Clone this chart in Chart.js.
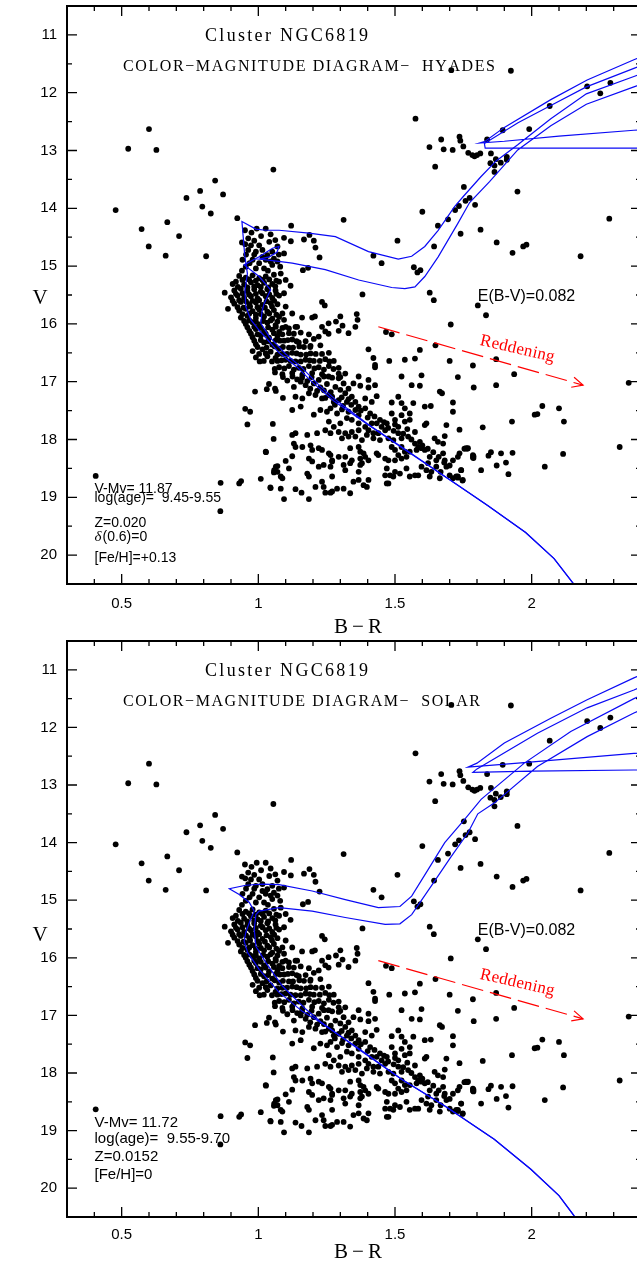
<!DOCTYPE html>
<html>
<head>
<meta charset="utf-8">
<script src="https://cdn.jsdelivr.net/npm/chart.js@4"></script>
<style>
  html, body { margin: 0; padding: 0; background: #fff; overflow: hidden; }
  canvas { display: block; }
</style>
</head>
<body>
<canvas id="cmdTop" width="645" height="637"></canvas>
<canvas id="cmdBottom" width="645" height="637"></canvas>
<script>
// axis ticks
const xTicks = [0.5, 1, 1.5, 2]
const xTickLabels = ['0.5', '1', '1.5', '2']
const yTicks = [11, 12, 13, 14, 15, 16, 17, 18, 19, 20]
const yTickLabels = ['11', '12', '13', '14', '15', '16', '17', '18', '19', '20']
const xMinorTicks = [0.4, 0.5, 0.6, 0.7, 0.8, 0.9, 1, 1.1, 1.2, 1.3, 1.4, 1.5, 1.6, 1.7, 1.8, 1.9, 2, 2.1, 2.2, 2.3]
const yMinorTicks = [11, 11.5, 12, 12.5, 13, 13.5, 14, 14.5, 15, 15.5, 16, 16.5, 17, 17.5, 18, 18.5, 19, 19.5, 20]

// stars [B-R, V] (same photometry in both panels)
const fieldStars = [
  [0.524, 12.97], [0.600, 12.63], [0.627, 12.99], [1.055, 13.33], [0.842, 13.52], [0.787, 13.70], [0.871, 13.76], [0.737, 13.82],
  [0.795, 13.97], [0.826, 14.09], [0.478, 14.03], [0.573, 14.36], [0.667, 14.24], [0.710, 14.48], [0.599, 14.66], [0.661, 14.82],
  [0.809, 14.83], [0.923, 14.17], [0.877, 15.46], [0.889, 15.74], [0.405, 18.63], [0.862, 18.75], [0.861, 19.24], [0.930, 18.76],
  [0.937, 18.72], [1.009, 18.68], [1.044, 18.83], [1.057, 18.57], [1.028, 18.22], [1.056, 17.99], [1.053, 17.73], [0.952, 17.47],
  [0.970, 17.52], [0.960, 17.74], [0.988, 17.17], [1.070, 18.46], [1.031, 17.13], [1.039, 17.04], [1.061, 17.12]
]
const giantStars = [
  [1.706, 11.61], [1.924, 11.62], [1.575, 12.45], [2.203, 11.89], [2.251, 12.01], [2.288, 11.83], [2.066, 12.23], [1.894, 12.65],
  [1.991, 12.63], [1.837, 12.81], [1.736, 12.76], [1.739, 12.83], [1.669, 12.81], [1.626, 12.94], [1.678, 12.98], [1.711, 12.99],
  [1.750, 12.93], [1.768, 13.04], [1.783, 13.08], [1.791, 13.10], [1.800, 13.08], [1.812, 13.05], [1.851, 13.05], [1.869, 13.15],
  [1.849, 13.22], [1.864, 13.26], [1.887, 13.21], [1.909, 13.16], [1.909, 13.11], [1.864, 13.37], [1.647, 13.28], [1.752, 13.63],
  [1.773, 13.82], [1.948, 13.71], [1.600, 14.06], [1.312, 14.20], [1.120, 14.30], [1.657, 14.30], [1.694, 14.19], [1.720, 14.03],
  [1.734, 13.96], [1.758, 13.87], [1.793, 13.94], [1.740, 14.44], [1.643, 14.66], [1.509, 14.56], [1.187, 14.46], [1.203, 14.56],
  [1.209, 14.68], [1.224, 14.85], [1.167, 14.54], [1.119, 14.57], [1.094, 14.51], [1.421, 14.82], [1.451, 14.95], [1.569, 15.02],
  [1.593, 15.07], [1.582, 15.11], [1.182, 15.03], [1.163, 15.07], [1.118, 15.34], [1.381, 15.49], [1.627, 15.46], [1.642, 15.59],
  [1.803, 15.68], [1.704, 16.01], [1.467, 16.14], [1.488, 16.18], [1.360, 15.83], [1.363, 15.93], [1.355, 16.05], [2.284, 14.18],
  [2.179, 14.83], [1.813, 14.37], [1.872, 14.59], [1.930, 14.77], [1.969, 14.66], [1.981, 14.63], [1.833, 15.85], [1.870, 16.61],
  [1.785, 16.72], [1.936, 16.87], [1.870, 17.06], [1.788, 17.10], [2.355, 17.02]
]
const turnoffStars = [
  [0.951, 14.38], [0.994, 14.35], [1.027, 14.35], [0.940, 14.59], [0.963, 14.52], [1.003, 14.64], [0.963, 14.72], [0.942, 14.89],
  [0.973, 14.64], [0.991, 14.75], [1.015, 14.72], [1.033, 14.81], [1.051, 14.75], [1.070, 14.66], [0.979, 14.89], [1.003, 14.95],
  [1.027, 14.89], [1.057, 14.87], [0.954, 15.01], [0.991, 15.04], [1.021, 15.04], [1.051, 14.98], [1.070, 14.92], [1.094, 14.78],
  [1.080, 15.01], [0.930, 15.17], [0.954, 15.20], [0.979, 15.16], [1.003, 15.21], [1.027, 15.18], [1.057, 15.15], [1.082, 15.13],
  [0.906, 15.31], [0.918, 15.27], [0.948, 15.32], [0.973, 15.28], [0.997, 15.33], [1.021, 15.29], [1.051, 15.31], [1.076, 15.27],
  [1.100, 15.24], [0.912, 15.42], [0.936, 15.39], [0.960, 15.43], [0.985, 15.40], [1.009, 15.44], [1.033, 15.40], [1.063, 15.42],
  [1.094, 15.47], [0.900, 15.54], [0.924, 15.51], [0.948, 15.55], [0.973, 15.52], [0.997, 15.56], [1.027, 15.52], [1.051, 15.55],
  [1.076, 15.51], [0.912, 15.65], [0.936, 15.62], [0.967, 15.66], [0.991, 15.63], [1.015, 15.67], [1.045, 15.64], [1.070, 15.66],
  [1.100, 15.70], [0.930, 15.77], [0.954, 15.74], [0.979, 15.78], [1.003, 15.75], [1.033, 15.79], [1.057, 15.76], [1.088, 15.82],
  [1.124, 15.82], [0.936, 15.89], [0.960, 15.86], [0.991, 15.90], [1.021, 15.87], [1.051, 15.91], [1.076, 15.88], [0.954, 16.00],
  [0.979, 15.97], [1.003, 16.01], [1.033, 15.98], [1.063, 16.02], [1.100, 16.05], [1.136, 16.05], [0.967, 16.12], [0.991, 16.09],
  [1.021, 16.13], [1.051, 16.10], [1.076, 16.14], [1.112, 16.16], [1.155, 16.15], [1.185, 16.18], [0.979, 16.23], [1.009, 16.20],
  [1.039, 16.24], [1.070, 16.21], [0.991, 16.35], [1.021, 16.32], [1.051, 16.36], [1.064, 16.28], [1.094, 16.29], [1.124, 16.27],
  [1.173, 16.30], [1.203, 16.26], [0.979, 16.47], [1.015, 16.44], [1.045, 16.48], [1.076, 16.43], [1.112, 16.41], [1.167, 16.40],
  [0.991, 16.58], [1.033, 16.56], [1.063, 16.59], [1.005, 16.65], [1.061, 16.84]
]
const turnoffCore = [
  [0.975, 14.42], [1.010, 14.48], [1.045, 14.45], [0.952, 14.62], [0.985, 14.56], [1.040, 14.58], [1.062, 14.55], [0.955, 14.80],
  [0.985, 14.80], [1.015, 14.84], [1.045, 14.92], [0.968, 14.95], [1.035, 15.08], [0.940, 15.08], [1.075, 14.80],
  [0.942, 15.24], [0.966, 15.23], [0.991, 15.25], [1.015, 15.24], [1.040, 15.23], [1.066, 15.25],
  [0.925, 15.36], [0.960, 15.37], [0.985, 15.35], [1.009, 15.36], [1.036, 15.37], [1.062, 15.35],
  [0.918, 15.48], [0.942, 15.47], [0.966, 15.49], [0.991, 15.48], [1.015, 15.47], [1.040, 15.49], [1.066, 15.48],
  [0.906, 15.60], [0.930, 15.59], [0.955, 15.61], [0.979, 15.60], [1.003, 15.59], [1.030, 15.61], [1.058, 15.60],
  [0.924, 15.71], [0.946, 15.72], [0.970, 15.70], [0.997, 15.71], [1.024, 15.72], [1.050, 15.70],
  [0.942, 15.83], [0.967, 15.82], [0.991, 15.84], [1.009, 15.83], [1.040, 15.82], [1.066, 15.84],
  [0.948, 15.95], [0.967, 15.94], [0.991, 15.96], [1.018, 15.95], [1.045, 15.94], [1.070, 15.96],
  [0.960, 16.06], [0.985, 16.05], [1.009, 16.07], [1.036, 16.06], [1.064, 16.05], [1.088, 16.07],
  [0.973, 16.17], [0.997, 16.18], [1.027, 16.17], [1.057, 16.16], [1.088, 16.18],
  [0.985, 16.29], [1.009, 16.28], [1.036, 16.30], [1.079, 16.29], [1.108, 16.28], [1.140, 16.30],
  [0.997, 16.40], [1.030, 16.41], [1.060, 16.39], [1.090, 16.40], [1.127, 16.41], [1.150, 16.39], [1.190, 16.40],
  [1.003, 16.52], [1.027, 16.51], [1.070, 16.53], [1.105, 16.52], [1.140, 16.51], [1.175, 16.53], [1.210, 16.52],
  [1.020, 16.64], [1.050, 16.65], [1.085, 16.63], [1.118, 16.64], [1.155, 16.65], [1.188, 16.63], [1.225, 16.64], [1.260, 16.65],
  [1.060, 16.78], [1.095, 16.77], [1.130, 16.79], [1.165, 16.78], [1.205, 16.77], [1.240, 16.79], [1.275, 16.78],
  [1.090, 16.92], [1.125, 16.91], [1.160, 16.93], [1.195, 16.92], [1.240, 16.91], [1.270, 16.93], [1.300, 16.92]
]
const upperMsStars = [
  [1.300, 15.87], [1.308, 16.03], [1.294, 16.12], [1.330, 16.16], [1.284, 15.96], [1.257, 15.99], [1.245, 16.13], [1.233, 16.05],
  [1.233, 15.62], [1.243, 15.68], [1.207, 15.87], [1.197, 15.89], [1.160, 15.89], [1.221, 16.22], [1.257, 16.17], [1.227, 16.37],
  [1.191, 16.38], [1.142, 16.05], [1.130, 16.17], [1.148, 16.32], [1.112, 16.08], [1.094, 15.93], [1.403, 16.44], [1.421, 16.59],
  [1.427, 16.71], [1.427, 16.75], [1.479, 16.64], [1.536, 16.62], [1.573, 16.60], [1.591, 16.45], [1.648, 16.37], [1.700, 16.64],
  [1.730, 16.92], [1.597, 16.89], [1.524, 16.91], [1.664, 17.17], [1.672, 17.20], [1.403, 16.97], [1.367, 16.91], [1.294, 16.86],
  [1.294, 16.94], [1.257, 16.91], [1.221, 16.97], [1.088, 16.52], [1.124, 16.50], [1.155, 16.53], [1.191, 16.51], [1.233, 16.52],
  [1.258, 16.50], [1.070, 16.64], [1.100, 16.62], [1.136, 16.65], [1.173, 16.62], [1.203, 16.64], [1.245, 16.61], [1.276, 16.64],
  [1.076, 16.75], [1.112, 16.73], [1.148, 16.76], [1.185, 16.73], [1.221, 16.75], [1.258, 16.73], [1.294, 16.76], [1.088, 16.87],
  [1.124, 16.85], [1.161, 16.88], [1.197, 16.85], [1.233, 16.87], [1.318, 16.86], [1.106, 16.98], [1.142, 16.96], [1.179, 16.99]
]
const lowerMsStars = [
  [1.064, 17.16], [1.130, 17.09], [1.155, 17.00], [1.173, 17.06], [1.203, 17.03], [1.227, 17.10], [1.251, 17.04], [1.282, 17.09],
  [1.312, 17.03], [1.330, 17.12], [1.348, 17.03], [1.373, 17.07], [1.403, 17.10], [1.427, 17.06], [1.561, 17.06], [1.591, 17.07],
  [1.090, 17.28], [1.136, 17.26], [1.161, 17.29], [1.185, 17.20], [1.209, 17.23], [1.233, 17.29], [1.258, 17.23], [1.276, 17.35],
  [1.294, 17.32], [1.318, 17.20], [1.324, 17.35], [1.342, 17.26], [1.367, 17.43], [1.391, 17.29], [1.415, 17.35], [1.433, 17.25],
  [1.488, 17.36], [1.512, 17.26], [1.524, 17.37], [1.536, 17.46], [1.567, 17.37], [1.609, 17.43], [1.631, 17.42], [1.712, 17.36],
  [1.712, 17.52], [1.124, 17.49], [1.155, 17.43], [1.203, 17.57], [1.227, 17.49], [1.251, 17.52], [1.264, 17.46], [1.288, 17.55],
  [1.306, 17.48], [1.330, 17.52], [1.355, 17.49], [1.367, 17.58], [1.391, 17.46], [1.409, 17.55], [1.488, 17.55], [1.500, 17.66],
  [1.524, 17.58], [1.554, 17.55], [1.258, 17.69], [1.276, 17.78], [1.300, 17.72], [1.324, 17.63], [1.342, 17.66], [1.367, 17.72],
  [1.391, 17.78], [1.415, 17.72], [1.433, 17.72], [1.451, 17.78], [1.470, 17.72], [1.403, 17.84], [1.421, 17.89], [1.439, 17.89],
  [1.464, 17.84], [1.512, 17.78], [1.536, 17.69], [1.554, 17.66], [1.573, 17.87], [1.609, 17.75], [1.615, 17.72], [1.688, 17.75],
  [1.736, 17.83], [1.124, 17.92], [1.136, 17.89], [1.179, 17.92], [1.215, 17.89], [1.245, 17.84], [1.264, 17.89], [1.294, 17.87],
  [1.318, 17.89], [1.342, 17.87], [1.367, 17.84], [1.306, 17.98], [1.330, 17.95], [1.355, 17.95], [1.379, 18.01], [1.397, 17.92],
  [1.421, 17.98], [1.445, 18.01], [1.476, 17.98], [1.494, 18.01], [1.512, 17.89], [1.524, 17.98], [1.548, 17.95], [1.573, 18.07],
  [1.591, 18.04], [1.645, 17.98], [1.657, 18.04], [1.676, 18.07], [1.682, 17.94], [1.130, 18.07], [1.136, 18.13], [1.161, 18.13],
  [1.191, 18.10], [1.197, 18.18], [1.221, 18.15], [1.233, 18.18], [1.258, 18.24], [1.264, 18.27], [1.336, 18.15], [1.367, 18.13],
  [1.373, 18.21], [1.385, 18.24], [1.433, 18.24], [1.439, 18.27], [1.464, 18.33], [1.488, 18.13], [1.500, 18.18], [1.524, 18.13],
  [1.536, 18.21], [1.554, 18.21], [1.585, 18.13], [1.597, 18.15], [1.609, 18.18], [1.579, 18.18], [1.627, 18.30], [1.651, 18.36],
  [1.676, 18.24], [1.682, 18.36], [1.712, 18.36], [1.730, 18.30], [1.736, 18.24], [1.760, 18.15], [1.767, 18.15], [1.785, 18.27],
  [1.785, 18.31], [1.027, 18.21], [1.100, 18.37], [1.124, 18.29], [1.185, 18.33], [1.197, 18.38], [1.270, 18.36], [1.294, 18.30],
  [1.318, 18.30], [1.342, 18.36], [1.373, 18.33], [1.379, 18.41], [1.391, 18.30], [1.403, 18.36], [1.476, 18.36], [1.500, 18.36],
  [1.512, 18.27], [1.524, 18.33], [1.542, 18.30], [1.064, 18.47], [1.070, 18.56], [1.058, 18.53], [1.112, 18.50], [1.082, 18.64],
  [1.088, 18.67], [1.179, 18.59], [1.185, 18.64], [1.221, 18.47], [1.239, 18.44], [1.264, 18.47], [1.270, 18.38], [1.270, 18.64],
  [1.233, 18.73], [1.209, 18.82], [1.239, 18.82], [1.270, 18.90], [1.288, 18.85], [1.312, 18.85], [1.318, 18.53], [1.312, 18.44],
  [1.336, 18.41], [1.367, 18.56], [1.348, 18.73], [1.367, 18.70], [1.385, 18.79], [1.397, 18.82], [1.403, 18.70], [1.373, 18.44],
  [1.470, 18.50], [1.482, 18.62], [1.464, 18.62], [1.476, 18.76], [1.494, 18.64], [1.500, 18.56], [1.518, 18.59], [1.542, 18.50],
  [1.554, 18.64], [1.573, 18.62], [1.585, 18.62], [1.597, 18.47], [1.615, 18.53], [1.621, 18.41], [1.627, 18.64], [1.633, 18.56],
  [1.651, 18.47], [1.664, 18.67], [1.667, 18.56], [1.688, 18.47], [1.700, 18.62], [1.712, 18.67], [1.724, 18.64], [1.730, 18.64],
  [1.742, 18.53], [1.748, 18.70], [1.045, 18.84], [1.082, 18.85], [1.136, 18.86], [1.158, 18.92], [1.094, 19.03], [1.185, 19.03],
  [1.245, 18.92], [1.264, 18.92], [1.336, 18.93], [1.470, 18.76],
  [1.190, 17.12], [1.215, 17.16], [1.240, 17.15], [1.265, 17.18], [1.300, 17.14], [1.245, 17.28], [1.270, 17.26], [1.305, 17.27],
  [1.330, 17.30], [1.355, 17.35], [1.280, 17.40], [1.310, 17.42], [1.340, 17.40], [1.375, 17.50], [1.400, 17.62], [1.425, 17.60],
  [1.445, 17.66], [1.460, 17.70], [1.475, 17.80], [1.495, 17.85], [1.500, 17.74], [1.530, 17.90], [1.545, 17.82], [1.560, 18.00],
  [1.600, 18.10], [1.620, 18.16], [1.640, 18.22], [1.700, 18.45], [1.680, 18.40], [1.660, 18.30]
]
const redFieldStars = [
  [2.039, 17.42], [2.100, 17.46], [2.011, 17.57], [2.021, 17.56], [1.928, 17.69], [2.118, 17.69], [1.821, 17.79], [2.322, 18.13],
  [1.754, 18.16], [1.764, 18.16], [1.787, 18.29], [1.787, 18.32], [1.842, 18.28], [1.851, 18.22], [1.888, 18.24], [1.930, 18.23],
  [1.906, 18.40], [1.872, 18.45], [2.115, 18.25], [2.048, 18.47], [1.742, 18.53], [1.815, 18.53], [1.915, 18.60], [1.730, 18.66],
  [1.747, 18.71]
]
const stars = [...fieldStars, ...giantStars, ...turnoffStars, ...turnoffCore, ...upperMsStars, ...lowerMsStars, ...redFieldStars]

// isochrones, Hyades metallicity (log age 9.45 and 9.55)
const isoHyadesYoung = [
  [2.17, 20.60], [2.082, 20.06], [1.978, 19.61], [1.839, 19.14], [1.730, 18.79], [1.55, 18.22], [1.40, 17.74], [1.275, 17.33],
  [1.20, 17.02], [1.14, 16.74], [1.076, 16.50], [1.003, 16.11], [0.973, 15.93], [0.954, 15.70], [0.951, 15.41], [0.960, 15.13],
  [0.950, 14.80], [0.940, 14.23], [0.991, 14.36], [1.027, 14.38], [1.076, 14.38], [1.185, 14.43], [1.282, 14.49], [1.403, 14.75],
  [1.512, 14.88], [1.561, 14.83], [1.609, 14.66], [1.658, 14.38], [1.718, 13.97], [1.749, 13.80], [1.815, 13.45], [1.87, 13.18],
  [1.949, 12.90], [2.07, 12.45], [2.20, 12.02], [2.374, 11.72], [2.55, 11.40], [2.55, 12.60], [2.374, 12.65], [2.10, 12.75],
  [1.90, 12.84], [1.809, 12.87], [1.83, 12.84], [1.90, 12.60], [2.07, 12.12], [2.203, 11.78], [2.374, 11.43], [2.55, 11.10]
]
const isoHyadesOld = [
  [2.17, 20.60], [2.082, 20.06], [1.978, 19.61], [1.839, 19.14], [1.730, 18.79], [1.55, 18.21], [1.40, 17.73], [1.29, 17.34],
  [1.22, 17.05], [1.16, 16.76], [1.10, 16.52], [1.040, 16.22], [1.009, 15.99], [1.013, 15.80], [1.021, 15.65], [1.045, 15.41],
  [1.003, 15.18], [0.948, 14.98], [1.003, 14.84], [1.052, 14.69], [1.076, 14.66], [1.068, 14.76], [1.040, 14.84], [1.003, 14.88],
  [1.06, 14.91], [1.124, 14.95], [1.245, 15.06], [1.367, 15.24], [1.488, 15.37], [1.536, 15.39], [1.573, 15.36], [1.609, 15.18],
  [1.658, 14.84], [1.730, 14.26], [1.773, 13.90], [1.846, 13.54], [1.949, 12.99], [2.07, 12.57], [2.20, 12.20], [2.374, 11.90],
  [2.55, 11.60], [2.55, 12.96], [2.374, 12.96], [2.00, 12.96], [1.83, 12.96], [1.827, 12.88], [1.95, 12.52], [2.07, 12.22],
  [2.20, 11.90], [2.374, 11.58], [2.55, 11.25]
]
// isochrones, solar metallicity (log age 9.55 and 9.70)
const isoSolarYoung = [
  [2.17, 20.60], [2.154, 20.47], [2.100, 20.13], [1.997, 19.67], [1.863, 19.15], [1.681, 18.57], [1.524, 18.11], [1.38, 17.62],
  [1.221, 17.10], [1.161, 16.93], [1.076, 16.60], [1.003, 16.20], [0.961, 15.91], [0.948, 15.71], [0.954, 15.56], [0.970, 15.35],
  [0.985, 15.19], [0.967, 15.04], [0.930, 14.90], [0.894, 14.80], [0.954, 14.74], [1.015, 14.72], [1.076, 14.73], [1.197, 14.84],
  [1.318, 14.99], [1.439, 15.13], [1.518, 15.11], [1.561, 14.93], [1.621, 14.47], [1.682, 14.00], [1.754, 13.60], [1.815, 13.25],
  [1.973, 12.62], [2.143, 12.07], [2.374, 11.50], [2.55, 11.15], [2.55, 12.42], [2.374, 12.45], [1.95, 12.62], [1.767, 12.69],
  [1.80, 12.62], [1.900, 12.27], [2.070, 11.84], [2.203, 11.52], [2.374, 11.14], [2.55, 10.80]
]
const isoSolarOld = [
  [2.17, 20.60], [2.154, 20.47], [2.100, 20.13], [1.997, 19.67], [1.863, 19.15], [1.681, 18.57], [1.524, 18.11], [1.38, 17.63],
  [1.23, 17.12], [1.173, 16.89], [1.088, 16.49], [1.027, 16.08], [0.991, 15.80], [0.985, 15.51], [0.991, 15.25], [1.003, 15.19],
  [1.076, 15.13], [1.197, 15.19], [1.318, 15.30], [1.464, 15.42], [1.518, 15.41], [1.561, 15.25], [1.633, 14.75], [1.706, 14.24],
  [1.767, 13.83], [1.803, 13.50], [1.864, 13.31], [2.021, 12.68], [2.203, 12.16], [2.374, 11.75], [2.55, 11.40], [2.55, 12.74],
  [2.374, 12.74], [2.00, 12.76], [1.785, 12.78], [1.80, 12.72], [2.021, 12.10], [2.203, 11.66], [2.374, 11.35], [2.55, 11.00]
]
const reddeningVector = [[1.439, 16.05], [2.188, 17.06]]

const toPoint = ([x, y]) => ({ x, y })
const tickFont = { family: "'Liberation Sans', Arial, sans-serif", size: 15 }

function spacedText(ctx, text, x, y, width) {
  const chars = [...text]
  const natural = chars.reduce((s, c) => s + ctx.measureText(c).width, 0)
  const gap = chars.length > 1 ? (width - natural) / (chars.length - 1) : 0
  let cx = x
  ctx.textAlign = 'left'
  chars.forEach(c => {
    ctx.fillText(c, cx, y)
    cx += ctx.measureText(c).width + gap
  })
}

const cmdDecor = {
  id: 'cmdDecor',
  afterDatasetsDraw(chart, args, opts) {
    const { ctx, chartArea: a, scales: { x, y } } = chart
    ctx.save()

    // inward ticks + frame
    ctx.strokeStyle = '#000'
    ctx.lineWidth = 1.3
    ctx.beginPath()
    xMinorTicks.forEach(v => {
      const px = x.getPixelForValue(v)
      const len = Math.abs(v * 2 - Math.round(v * 2)) < 1e-6 ? 10 : 5
      ctx.moveTo(px, a.bottom)
      ctx.lineTo(px, a.bottom - len)
      ctx.moveTo(px, a.top)
      ctx.lineTo(px, a.top + len)
    })
    yMinorTicks.forEach(v => {
      const py = y.getPixelForValue(v)
      const len = Number.isInteger(v) ? 10 : 5
      ctx.moveTo(a.left, py)
      ctx.lineTo(a.left + len, py)
      ctx.moveTo(a.right, py)
      ctx.lineTo(a.right - len, py)
    })
    ctx.stroke()
    ctx.lineWidth = 2
    ctx.strokeRect(a.left, a.top, a.right - a.left, a.bottom - a.top)

    // titles
    ctx.fillStyle = '#000'
    ctx.textBaseline = 'alphabetic'
    ctx.font = "18px 'Liberation Serif', serif"
    spacedText(ctx, 'Cluster NGC6819', 205, a.top + 34.7, 163)
    ctx.font = "16px 'Liberation Serif', serif"
    spacedText(ctx, opts.subtitle, 123, a.top + 64.5, opts.subtitleWidth)

    // E(B-V)
    ctx.font = "16px 'Liberation Sans', Arial, sans-serif"
    ctx.textAlign = 'left'
    ctx.textBaseline = 'middle'
    ctx.fillText('E(B-V)=0.082', x.getPixelForValue(1.803), y.getPixelForValue(15.52))

    // reddening arrow head + label
    const [p0, p1] = reddeningVector
    const x0 = x.getPixelForValue(p0[0]), y0 = y.getPixelForValue(p0[1])
    const x1 = x.getPixelForValue(p1[0]), y1 = y.getPixelForValue(p1[1])
    const ang = Math.atan2(y1 - y0, x1 - x0)
    ctx.strokeStyle = 'rgb(255, 0, 0)'
    ctx.lineWidth = 1.2
    ctx.beginPath()
    ctx.moveTo(x1 - 12 * Math.cos(ang - 0.45), y1 - 12 * Math.sin(ang - 0.45))
    ctx.lineTo(x1, y1)
    ctx.lineTo(x1 - 12 * Math.cos(ang + 0.45), y1 - 12 * Math.sin(ang + 0.45))
    ctx.stroke()
    ctx.save()
    ctx.translate(x.getPixelForValue(1.944), y.getPixelForValue(16.51))
    ctx.rotate(13 * Math.PI / 180)
    ctx.fillStyle = 'rgb(255, 0, 0)'
    ctx.textBaseline = 'alphabetic'
    ctx.font = "17px 'Liberation Serif', serif"
    spacedText(ctx, 'Reddening', -38, 0, 76)
    ctx.restore()

    // model parameters
    ctx.fillStyle = '#000'
    ctx.textAlign = 'left'
    ctx.textBaseline = 'alphabetic'
    opts.params.forEach(p => {
      let px = 94.5
      if (p.prefix) {
        ctx.font = `italic ${opts.paramSize + 1}px 'Liberation Serif', serif`
        ctx.fillText(p.prefix, px, a.top + p.dy)
        px += ctx.measureText(p.prefix).width + 1
      }
      ctx.font = `${opts.paramSize}px 'Liberation Sans', Arial, sans-serif`
      ctx.fillText(p.text, px, a.top + p.dy)
    })

    // axis titles
    ctx.font = "21px 'Liberation Serif', serif"
    ctx.textAlign = 'center'
    ctx.textBaseline = 'middle'
    ctx.fillText('V', 40, 298)
    spacedText(ctx, 'B\u2212R', 334, opts.brY, 48)
    ctx.restore()
  }
}

function noOverflow(s) {
  s.paddingTop = 0
  s.paddingBottom = 0
  s.paddingLeft = 0
  s.paddingRight = 0
}

function makeChart(id, panel) {
  const lineStyle = { showLine: true, pointRadius: 0, borderColor: 'rgb(10, 10, 245)', borderWidth: 1.2, fill: false, order: 1 }
  return new Chart(document.getElementById(id), {
    type: 'scatter',
    data: {
      datasets: [
        { data: stars.map(toPoint), pointRadius: 2.9, pointBackgroundColor: '#000', pointBorderWidth: 0, order: 3 },
        { ...lineStyle, data: panel.isoA.map(toPoint) },
        { ...lineStyle, data: panel.isoB.map(toPoint) },
        {
          data: reddeningVector.map(toPoint),
          showLine: true,
          pointRadius: 0,
          borderColor: 'rgb(255, 0, 0)',
          borderWidth: 1.2,
          borderDash: [22, 7],
          order: 0,
        },
      ],
    },
    options: {
      responsive: false,
      animation: false,
      events: [],
      layout: { padding: { top: panel.top, right: 1, left: 0, bottom: 0 } },
      plugins: {
        legend: { display: false },
        tooltip: { enabled: false },
        cmdDecor: panel.text,
      },
      scales: {
        x: {
          type: 'linear',
          min: 0.3,
          max: 2.4,
          afterBuildTicks: s => { s.ticks = xTicks.map(v => ({ value: v })) },
          afterFit: s => {
            s.height = panel.axisHeight
            noOverflow(s)
          },
          grid: { display: false, drawTicks: false },
          border: { display: false },
          ticks: {
            padding: panel.labelPad,
            color: '#000',
            font: tickFont,
            maxRotation: 0,
            autoSkip: false,
            callback: (v, i) => xTickLabels[i],
          },
        },
        y: {
          type: 'linear',
          reverse: true,
          min: 10.5,
          max: 20.5,
          afterBuildTicks: s => { s.ticks = yTicks.map(v => ({ value: v })) },
          afterFit: s => {
            s.width = 67
            noOverflow(s)
          },
          grid: { display: false, drawTicks: false },
          border: { display: false },
          ticks: {
            padding: 10,
            color: '#000',
            font: tickFont,
            autoSkip: false,
            callback: (v, i) => yTickLabels[i],
          },
        },
      },
    },
    plugins: [cmdDecor],
  })
}

makeChart('cmdTop', {
  isoA: isoHyadesYoung,
  isoB: isoHyadesOld,
  top: 6,
  axisHeight: 53,
  labelPad: 11,
  text: {
    subtitle: 'COLOR\u2212MAGNITUDE DIAGRAM\u2212  HYADES',
    subtitleWidth: 372,
    brY: 627,
    paramSize: 14,
    params: [
      { text: 'V-Mv= 11.87', dy: 486.7 },
      { text: 'log(age)=  9.45-9.55', dy: 496.3 },
      { text: 'Z=0.020', dy: 521.3 },
      { text: '(0.6)=0', prefix: '\u03b4', dy: 535 },
      { text: '[Fe/H]=+0.13', dy: 555.7 },
    ],
  },
})

makeChart('cmdBottom', {
  isoA: isoSolarYoung,
  isoB: isoSolarOld,
  top: 4,
  axisHeight: 57,
  labelPad: 9,
  text: {
    subtitle: 'COLOR\u2212MAGNITUDE DIAGRAM\u2212  SOLAR',
    subtitleWidth: 357,
    brY: 615,
    paramSize: 15,
    params: [
      { text: 'V-Mv= 11.72', dy: 485.7 },
      { text: 'log(age)=  9.55-9.70', dy: 502.3 },
      { text: 'Z=0.0152', dy: 520 },
      { text: '[Fe/H]=0', dy: 538 },
    ],
  },
})
</script>
</body>
</html>
